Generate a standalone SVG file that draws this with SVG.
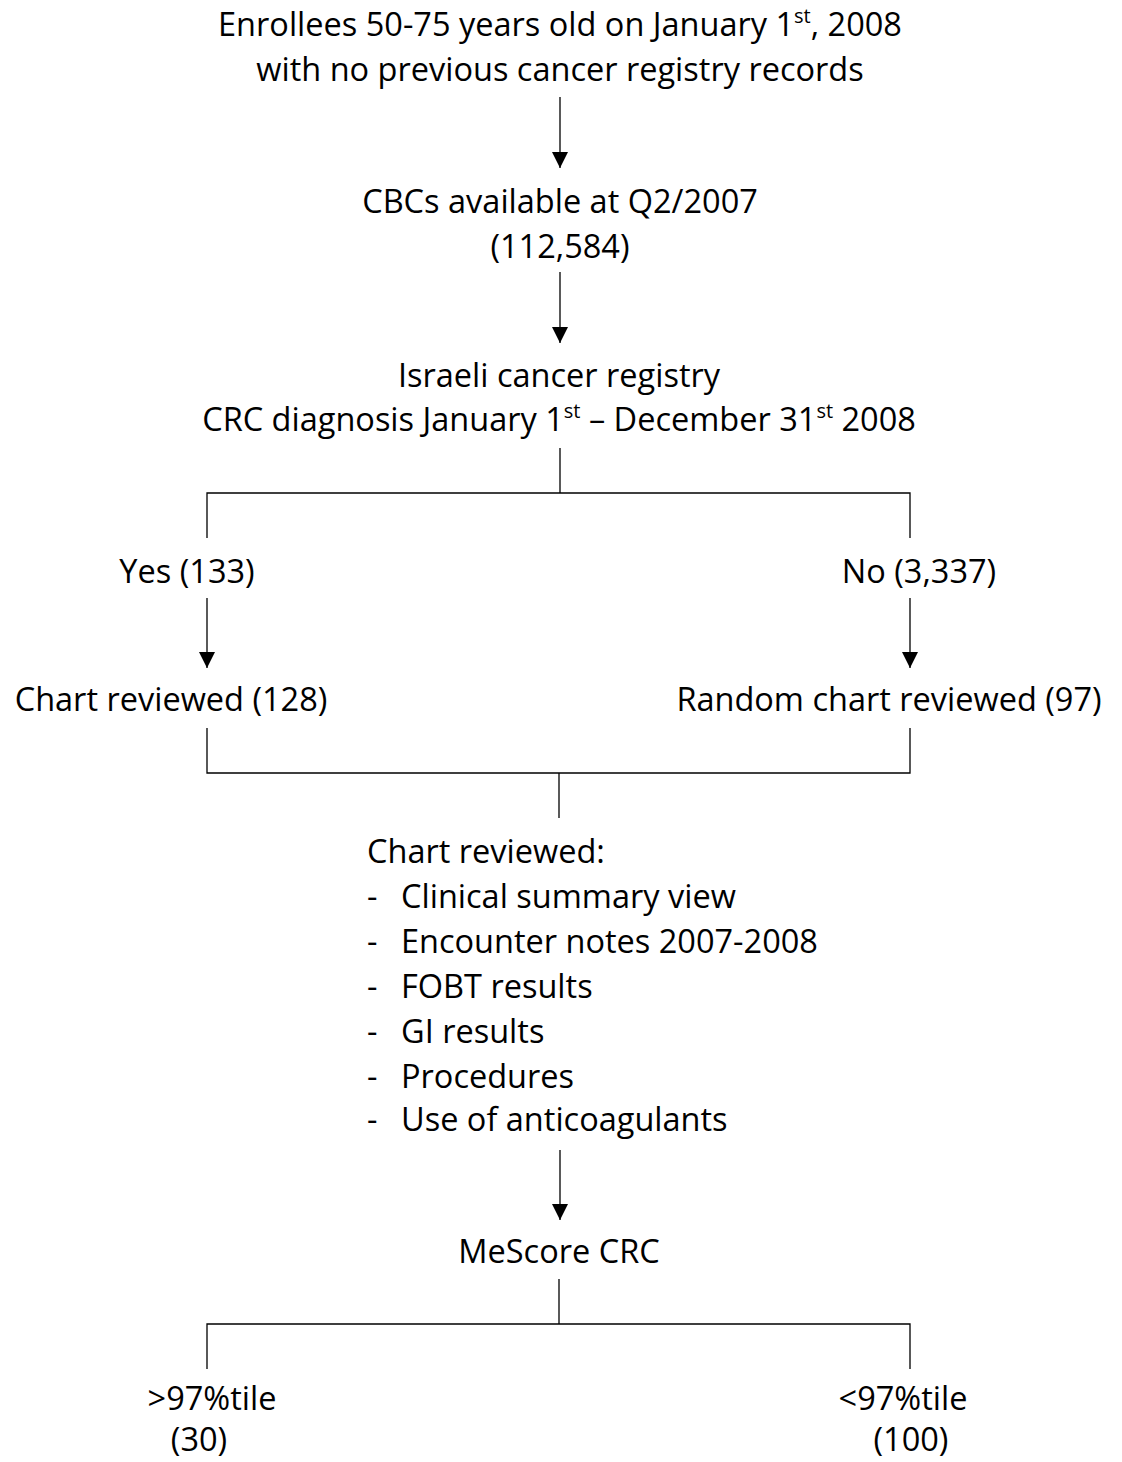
<svg xmlns="http://www.w3.org/2000/svg" width="1122" height="1462" viewBox="0 0 1122 1462">
<style>
text{font-family:"Open Sans","Liberation Sans",sans-serif;font-size:32.5px;fill:#000}
.c{text-anchor:middle}
.sup{font-size:20px}
.ln{stroke:#000;stroke-width:1.3;fill:none}
</style>
<defs>
<marker id="ah" markerWidth="16" markerHeight="16" viewBox="0 0 16 16" refX="16" refY="8" orient="auto" markerUnits="userSpaceOnUse">
<path d="M0,0 L16,8 L0,16 z" fill="#000"/>
</marker>
</defs>
<rect width="1122" height="1462" fill="#fff"/>
<g id="connectors">
<line class="ln" x1="560" y1="97" x2="560" y2="168" marker-end="url(#ah)"/>
<line class="ln" x1="560" y1="272" x2="560" y2="343" marker-end="url(#ah)"/>
<polyline class="ln" points="560,448 560,493"/>
<polyline class="ln" points="207,538 207,493 910,493 910,538"/>
<line class="ln" x1="207" y1="598" x2="207" y2="668" marker-end="url(#ah)"/>
<line class="ln" x1="910" y1="598" x2="910" y2="668" marker-end="url(#ah)"/>
<polyline class="ln" points="207,728 207,773 910,773 910,728"/>
<polyline class="ln" points="559,773 559,818"/>
<line class="ln" x1="560" y1="1150" x2="560" y2="1220" marker-end="url(#ah)"/>
<polyline class="ln" points="559,1279 559,1324"/>
<polyline class="ln" points="207,1369 207,1324 910,1324 910,1369"/>
</g>
<g id="n-enrollees">
<text class="c" x="560" y="36">Enrollees 50-75 years old on January 1<tspan class="sup" dy="-13">st</tspan><tspan dy="13">, 2008</tspan></text>
<text class="c" x="560" y="81">with no previous cancer registry records</text>
</g>
<g id="n-cbc">
<text class="c" x="560" y="213">CBCs available at Q2/2007</text>
<text class="c" x="560" y="258">(112,584)</text>
</g>
<g id="n-registry">
<text class="c" x="559" y="387">Israeli cancer registry</text>
<text class="c" x="559" y="431">CRC diagnosis January 1<tspan class="sup" dy="-13">st</tspan><tspan dy="13"> – December 31</tspan><tspan class="sup" dy="-13">st</tspan><tspan dy="13"> 2008</tspan></text>
</g>
<g id="n-yes">
<text class="c" x="187" y="583">Yes (133)</text>
</g>
<g id="n-no">
<text class="c" x="919" y="583">No (3,337)</text>
</g>
<g id="n-chart128">
<text class="c" x="171" y="711">Chart reviewed (128)</text>
</g>
<g id="n-chart97">
<text class="c" x="889" y="711">Random chart reviewed (97)</text>
</g>
<g id="n-review">
<text x="367" y="863">Chart reviewed:</text>
<text x="367" y="908">-</text><text x="401" y="908">Clinical summary view</text>
<text x="367" y="953">-</text><text x="401" y="953">Encounter notes 2007-2008</text>
<text x="367" y="998">-</text><text x="401" y="998">FOBT results</text>
<text x="367" y="1043">-</text><text x="401" y="1043">GI results</text>
<text x="367" y="1088">-</text><text x="401" y="1088">Procedures</text>
<text x="367" y="1131">-</text><text x="401" y="1131">Use of anticoagulants</text>
</g>
<g id="n-mescore">
<text class="c" x="559" y="1263">MeScore CRC</text>
</g>
<g id="n-above">
<text class="c" x="212" y="1410">&gt;97%tile</text>
<text class="c" x="199" y="1451">(30)</text>
</g>
<g id="n-below">
<text class="c" x="903" y="1410">&lt;97%tile</text>
<text class="c" x="911" y="1451">(100)</text>
</g>
</svg>
